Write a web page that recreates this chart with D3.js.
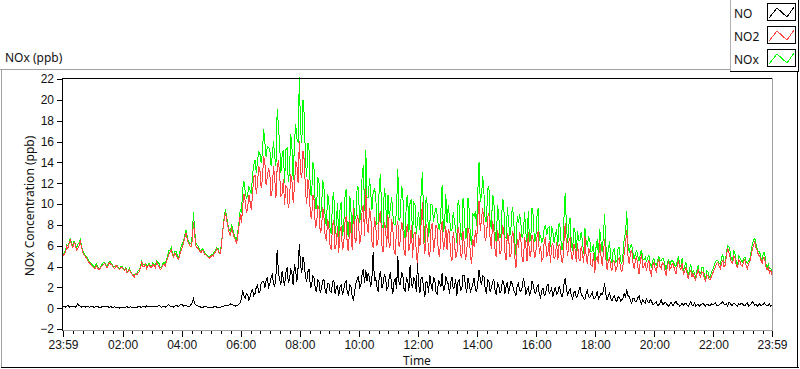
<!DOCTYPE html>
<html>
<head>
<meta charset="utf-8">
<script src="https://cdn.jsdelivr.net/npm/d3@7/dist/d3.min.js"></script>
<style>
body { margin: 0; background: #fff; }
svg { display: block; font-family: 'Noto Sans', sans-serif; }
.tick text { font-size: 12px; fill: #111; }
.tick line { stroke: #000; }
.label { font-size: 12px; fill: #111; }
</style>
</head>
<body>
<script>
var w = 800;
var h = 369;

var seriesNames = ['NO', 'NO2', 'NOx'];
var seriesColors = ['#000000', '#ff4444', '#00ff00'];

// samples every 2.5 minutes, from 23:59 to 23:59 the next day
var startTime = new Date(2020, 0, 1, 23, 59);
var endTime = new Date(2020, 0, 2, 23, 59);
var stepMinutes = 2.5;

var xTickLabels = ['23:59', '02:00', '04:00', '06:00', '08:00', '10:00', '12:00',
  '14:00', '16:00', '18:00', '20:00', '22:00', '23:59'];
var yTickValues = [-2, 0, 2, 4, 6, 8, 10, 12, 14, 16, 18, 20, 22];

// one row per hour
var noValues = [
  0.2,0.15, 0.1,0.2, 0.25,0.1, 0.15,0.2, 0.2,0.15, 0.1,0.2, 0.4,0.25, 0.2,0.1, 0.15,0.2, 0.1,0.15, 0.2,0.1, 0.1,0.15,
  0.15,0.1, 0.1,0.15, 0.2,0.1, 0.05,0.1, 0.15,0.2, 0.1,0.15, 0.2,0.1, 0.1,0.15, 0.05,0.1, 0.15,0.05, 0.1,0.1, 0.0,0.1,
  0.1,0.1, 0.05,0.1, 0.15,0.05, 0.1,0.15, 0.0,0.1, 0.1,0.05, 0.05,0.15, 0.2,0.1, 0.1,0.15, 0.15,0.1, 0.25,0.15, 0.1,0.2,
  0.2,0.15, 0.1,0.2, 0.15,0.2, 0.3,0.15, 0.1,0.15, 0.2,0.1, 0.15,0.25, 0.35,0.2, 0.2,0.15, 0.1,0.2, 0.3,0.2, 0.15,0.3,
  0.4,0.3, 0.2,0.25, 0.3,0.2, 0.15,0.2, 0.35,0.5, 0.9,0.4, 0.3,0.25, 0.2,0.15, 0.1,0.1, 0.1,0.15, 0.15,0.1, 0.1,0.1,
  0.1,0.1, 0.1,0.15, 0.15,0.1, 0.1,0.1, 0.1,0.15, 0.15,0.2, 0.3,0.3, 0.25,0.3, 0.4,0.35, 0.3,0.25, 0.2,0.3, 0.3,0.4,
  0.5,0.9, 1.7,1.2, 0.9,1.4, 1.3,0.8, 1.1,1.6, 1.8,1.2, 1.4,2.0, 2.2,1.5, 1.6,2.4, 2.6,2.6, 1.9,2.7, 2.9,2.0,
  2.3,2.9, 3.2,2.4, 2.0,3.1, 5.6,3.4, 2.8,2.2, 3.6,2.8, 2.1,3.4, 3.9,2.5, 2.7,3.8, 3.3,2.2, 4.2,3.6, 2.5,3.9,
  6.2,4.1, 3.4,4.9, 4.3,2.9, 2.6,3.5, 3.8,1.9, 2.2,3.1, 2.9,1.8, 1.6,2.7, 2.5,1.5, 1.9,2.6, 2.8,1.7, 1.4,2.4,
  2.4,1.6, 1.5,2.5, 2.7,1.4, 1.9,2.2, 1.2,2.0, 2.3,1.3, 1.7,2.4, 2.6,1.5, 1.3,2.3, 2.0,1.1, 0.8,1.7, 2.4,2.8,
  3.1,2.0, 2.2,3.3, 3.8,2.4, 3.7,2.6, 3.4,2.9, 2.0,3.0, 5.4,2.7, 2.9,2.1, 1.6,3.1, 3.6,1.9, 2.3,3.2, 3.0,1.8,
  2.0,2.9, 3.5,2.1, 1.4,2.6, 2.8,1.8, 5.0,2.5, 2.2,3.4, 3.3,1.9, 1.6,2.9, 2.7,1.7, 4.1,2.4, 1.9,3.0, 2.6,1.6,
  4.3,2.2, 1.5,3.0, 2.9,1.9, 1.1,2.6, 2.4,1.5, 3.2,2.3, 1.7,2.9, 2.8,1.6, 1.3,2.6, 2.5,2.0, 3.4,1.7, 1.8,3.1,
  2.6,2.3, 1.4,2.5, 3.0,1.9, 2.0,2.8, 1.2,2.6, 2.7,1.7, 1.8,3.2, 3.1,2.1, 1.5,2.9, 2.3,1.6, 1.9,2.4, 2.9,1.8,
  1.6,2.4, 3.7,2.8, 2.2,3.1, 3.0,1.9, 1.4,2.7, 2.6,1.6, 1.9,2.5, 2.8,1.7, 1.3,2.4, 2.2,1.5, 1.7,2.6, 2.5,1.4,
  2.1,2.5, 1.4,2.0, 2.6,2.3, 1.8,1.5, 1.2,2.2, 2.4,1.7, 1.6,2.0, 2.9,2.4, 1.3,1.8, 2.0,1.3, 1.5,2.6, 2.3,1.6,
  1.4,2.0, 2.2,1.3, 1.0,1.7, 1.9,1.2, 1.3,2.1, 2.3,1.4, 1.6,1.9, 1.1,1.6, 2.0,1.3, 1.4,2.1, 1.8,1.1, 1.2,2.3,
  2.9,1.8, 1.3,1.6, 1.9,1.2, 0.9,1.5, 1.6,1.0, 1.1,1.7, 2.0,1.3, 1.2,0.9, 0.8,1.4, 1.7,1.1, 1.0,1.3, 1.5,0.9,
  0.9,1.2, 1.6,0.9, 1.1,1.4, 1.3,1.7, 2.4,1.3, 0.8,1.1, 1.5,0.9, 0.7,1.0, 1.2,0.8, 0.6,1.1, 1.0,0.7, 0.8,1.0,
  1.4,1.0, 1.8,1.2, 1.1,0.7, 0.5,0.9, 0.9,0.6, 0.7,1.0, 1.2,0.7, 0.4,0.8, 0.6,0.5, 0.9,0.6, 0.5,0.8, 0.7,0.4,
  0.4,0.5, 0.6,0.3, 0.3,0.5, 0.8,0.4, 0.4,0.6, 0.5,0.3, 0.2,0.4, 0.6,0.3, 0.3,0.5, 0.7,0.4, 0.4,0.2, 0.3,0.5,
  0.3,0.4, 0.5,0.3, 0.2,0.4, 0.6,0.3, 0.3,0.5, 0.2,0.3, 0.4,0.2, 0.3,0.4, 0.5,0.3, 0.2,0.4, 0.4,0.2, 0.3,0.4,
  0.3,0.4, 0.5,0.3, 0.2,0.3, 0.4,0.5, 0.6,0.4, 0.3,0.4, 0.2,0.6, 0.5,0.3, 0.3,0.5, 0.4,0.3, 0.2,0.4, 0.3,0.5,
  0.4,0.3, 0.2,0.4, 0.5,0.2, 0.3,0.4, 0.6,0.5, 0.3,0.4, 0.2,0.3, 0.4,0.2, 0.3,0.4, 0.5,0.3, 0.2,0.3, 0.4,0.2,
  0.3
];

var no2Values = [
  5.0,5.2, 5.4,5.9, 5.7,6.2, 6.6,6.0, 5.8,6.3, 6.1,5.6, 5.7,6.0, 6.4,5.9, 5.4,5.1, 5.0,4.8, 4.6,4.4, 4.3,4.1,
  4.0,3.9, 3.8,4.1, 3.9,3.7, 3.8,4.0, 4.1,4.2, 4.3,4.0, 3.9,4.2, 4.4,4.2, 4.1,3.9, 3.8,4.1, 4.0,3.8, 3.7,3.9,
  3.9,3.7, 3.6,3.8, 3.4,3.5, 3.7,3.4, 3.3,3.1, 3.0,3.3, 3.2,3.4, 3.5,3.9, 4.4,4.0, 4.0,4.2, 3.8,4.0, 4.2,3.9,
  3.9,4.2, 4.1,3.9, 4.4,4.2, 4.0,3.7, 3.8,4.1, 4.2,4.0, 4.5,4.8, 5.2,5.4, 5.6,5.1, 4.9,5.3, 5.1,4.8, 4.7,5.2,
  5.5,5.9, 6.3,6.8, 7.2,6.6, 6.2,6.0, 5.9,6.5, 8.3,7.0, 6.0,5.8, 5.7,5.5, 5.3,5.6, 5.5,5.2, 5.1,5.0, 4.9,4.8,
  4.9,5.1, 5.0,5.3, 5.4,5.7, 5.6,5.2, 5.3,6.4, 7.6,8.5, 9.2,8.4, 7.8,7.2, 7.0,7.6, 7.3,6.8, 6.6,6.2, 7.0,7.9,
  9.0,8.2, 9.8,11.0, 10.3,9.1, 9.6,10.9, 10.2,9.4, 11.0,12.6, 12.8,11.0, 11.9,13.6, 13.2,11.5, 12.4,14.6, 14.0,11.8, 12.6,13.4,
  13.0,10.8, 11.4,13.6, 12.5,10.6, 13.5,14.2, 12.9,10.8, 11.0,12.4, 9.9,11.8, 11.5,9.6, 10.3,12.9, 12.2,10.1, 11.6,14.1, 13.8,12.0,
  16.0,13.0, 12.5,15.1, 14.2,11.2, 10.0,12.4, 11.3,9.0, 8.6,10.9, 10.4,7.8, 8.0,9.9, 9.5,7.2, 7.6,9.7, 8.8,6.9, 6.5,8.6,
  7.8,5.9, 5.6,8.1, 8.4,5.7, 6.2,7.9, 5.3,7.4, 7.9,5.6, 6.0,8.2, 8.8,5.8, 5.5,8.5, 7.2,5.6, 9.6,6.8, 6.3,8.9,
  8.5,6.2, 6.8,9.4, 9.9,6.9, 11.5,8.0, 7.2,9.6, 9.0,6.4, 5.8,8.7, 8.1,6.0, 6.6,8.9, 9.3,6.1, 5.4,8.3, 7.7,5.9,
  8.9,5.8, 6.1,8.6, 7.5,5.4, 5.2,7.8, 8.4,5.9, 6.5,8.3, 7.9,5.6, 5.0,7.7, 8.1,5.5, 6.2,8.0, 4.8,7.1, 7.3,5.5,
  4.1,7.0, 6.0,8.3, 10.2,6.6, 5.2,8.1, 7.5,5.3, 4.9,7.7, 8.2,5.4, 6.3,8.0, 7.6,5.2, 5.0,7.4, 8.4,5.6, 6.1,7.9,
  5.6,7.6, 7.2,5.0, 4.5,7.3, 6.4,4.8, 5.1,7.8, 7.0,5.2, 4.8,7.4, 6.2,4.6, 5.3,7.7, 7.1,5.1, 4.2,6.6, 5.9,7.5,
  6.3,8.8, 10.3,7.4, 8.6,9.6, 8.0,6.5, 6.9,8.7, 9.1,6.6, 5.7,8.4, 7.6,5.6, 4.9,7.5, 6.8,5.2, 5.5,7.9, 7.7,5.4,
  4.6,7.2, 6.9,4.9, 5.2,7.4, 7.1,5.0, 3.9,6.6, 5.8,7.3, 6.5,4.7, 4.4,6.8, 6.0,4.5, 7.3,5.1, 5.0,7.0, 6.6,4.8,
  5.1,6.8, 7.4,5.2, 6.0,4.6, 4.8,6.5, 6.7,4.9, 5.4,6.4, 4.3,6.0, 6.2,4.7, 5.0,6.3, 4.6,6.1, 5.9,4.5, 4.4,6.4,
  8.2,6.0, 5.0,6.4, 6.8,4.9, 4.6,6.2, 5.7,4.4, 6.3,4.8, 4.5,6.0, 5.2,4.3, 6.9,5.0, 4.2,5.8, 5.5,4.1, 4.0,5.3,
  3.4,4.6, 5.0,4.2, 6.5,5.1, 4.1,5.2, 6.6,4.8, 3.7,4.5, 4.9,3.9, 3.6,4.6, 4.5,3.6, 3.9,4.7, 4.8,3.8, 3.5,4.2,
  5.4,6.2, 7.5,5.0, 4.2,5.3, 5.6,4.4, 3.8,4.6, 4.9,4.0, 3.3,4.5, 5.2,3.9, 4.0,4.4, 3.6,4.2, 4.6,3.5, 3.2,4.1,
  4.4,3.8, 3.5,4.2, 4.7,4.0, 3.8,4.4, 4.3,3.6, 3.1,4.0, 4.5,3.7, 3.9,4.3, 4.1,3.6, 3.3,4.1, 4.6,3.9, 3.7,4.3,
  3.2,3.6, 3.9,3.3, 2.8,3.4, 3.6,3.0, 3.3,2.9, 2.7,3.3, 3.7,3.2, 3.0,3.5, 3.4,2.9, 2.6,3.2, 3.1,2.7, 2.8,3.1,
  3.4,3.7, 3.9,4.3, 4.4,4.0, 3.8,4.3, 4.6,4.0, 4.1,5.0, 5.8,5.3, 4.9,4.4, 4.3,5.0, 4.8,4.1, 3.9,4.6, 4.5,4.1,
  4.0,4.5, 4.7,4.1, 3.8,4.3, 4.4,5.0, 5.6,6.0, 6.4,5.8, 5.5,5.1, 5.0,4.6, 4.3,4.9, 4.8,4.0, 3.7,3.9, 3.4,3.6,
  3.2
];

var noxValues = [
  5.2,5.35, 5.5,6.1, 5.95,6.3, 6.75,6.2, 6.0,6.45, 6.2,5.8, 6.1,6.25, 6.6,6.0, 5.55,5.3, 5.1,4.95, 4.8,4.5, 4.4,4.25,
  4.15,4.0, 3.9,4.25, 4.1,3.8, 3.85,4.1, 4.25,4.4, 4.4,4.15, 4.1,4.3, 4.5,4.35, 4.15,4.0, 3.95,4.15, 4.1,3.9, 3.7,4.0,
  4.0,3.8, 3.65,3.9, 3.55,3.55, 3.8,3.55, 3.3,3.2, 3.1,3.35, 3.25,3.55, 3.7,4.0, 4.5,4.15, 4.15,4.3, 4.05,4.15, 4.3,4.1,
  4.1,4.35, 4.2,4.1, 4.55,4.4, 4.3,3.85, 3.9,4.25, 4.4,4.1, 4.65,5.05, 5.55,5.6, 5.8,5.25, 5.0,5.5, 5.4,5.0, 4.85,5.5,
  5.9,6.2, 6.5,7.05, 7.5,6.8, 6.35,6.2, 6.25,7.0, 9.2,7.4, 6.3,6.05, 5.9,5.65, 5.4,5.7, 5.6,5.35, 5.25,5.1, 5.0,4.9,
  5.0,5.2, 5.1,5.45, 5.55,5.8, 5.7,5.3, 5.4,6.55, 7.75,8.7, 9.5,8.7, 8.05,7.5, 7.4,7.95, 7.6,7.05, 6.8,6.5, 7.3,8.3,
  9.5,9.1, 11.5,12.2, 11.2,10.5, 10.9,11.7, 11.3,11.0, 12.8,13.8, 14.2,13.0, 14.1,15.1, 14.8,13.9, 15.0,17.2, 15.9,14.5, 15.5,15.4,
  15.3,13.7, 14.6,16.0, 14.5,13.7, 19.1,17.6, 15.7,13.0, 14.6,15.2, 12.0,15.2, 15.4,12.1, 13.0,16.7, 15.5,12.3, 15.8,17.7, 16.3,15.9,
  22.2,17.1, 15.9,20.0, 18.5,14.1, 12.6,15.9, 15.1,10.9, 10.8,14.0, 13.3,9.6, 9.6,12.6, 12.0,8.7, 9.5,12.3, 11.6,8.6, 7.9,11.0,
  10.2,7.5, 7.1,10.6, 11.1,7.1, 8.1,10.1, 6.5,9.4, 10.2,6.9, 7.7,10.6, 11.4,7.3, 6.8,10.8, 9.2,6.7, 10.4,8.5, 8.7,11.7,
  11.6,8.2, 9.0,12.7, 13.7,9.3, 15.2,10.6, 10.6,12.5, 11.0,9.4, 11.2,11.4, 11.0,8.1, 8.2,12.0, 12.9,8.0, 7.7,11.5, 10.7,7.7,
  10.9,8.7, 9.6,10.7, 8.9,8.0, 8.0,9.6, 13.4,8.4, 8.7,11.7, 11.2,7.5, 6.6,10.6, 10.8,7.2, 10.3,10.4, 6.7,10.1, 9.9,7.1,
  8.4,9.2, 7.5,11.3, 13.1,8.5, 6.3,10.7, 9.9,6.8, 8.1,10.0, 9.9,8.3, 9.1,9.6, 8.9,7.8, 7.5,9.4, 11.8,7.3, 7.9,11.0,
  8.2,9.9, 8.6,7.5, 7.5,9.2, 8.4,7.6, 6.3,10.4, 9.7,6.9, 6.6,10.6, 9.3,6.7, 6.8,10.6, 9.4,6.7, 6.1,9.0, 8.8,9.3,
  7.9,11.2, 14.0,10.2, 10.8,12.7, 11.0,8.4, 8.3,11.4, 11.7,8.2, 7.6,10.9, 10.4,7.3, 6.2,9.9, 9.0,6.7, 7.2,10.5, 10.2,6.8,
  6.7,9.7, 8.3,6.9, 7.8,9.7, 8.9,6.5, 5.1,8.8, 8.2,9.0, 8.1,6.7, 7.3,9.2, 7.3,6.3, 9.3,6.4, 6.5,9.6, 8.9,6.4,
  6.5,8.8, 9.6,6.5, 7.0,6.3, 6.7,7.7, 8.0,7.0, 7.7,7.8, 5.9,7.9, 7.3,6.3, 7.0,7.6, 6.0,8.2, 7.7,5.6, 5.6,8.7,
  11.1,7.8, 6.3,8.0, 8.7,6.1, 5.5,7.7, 7.3,5.4, 7.4,6.5, 6.5,7.3, 6.4,5.2, 7.7,6.4, 5.9,6.9, 6.5,5.4, 5.5,6.2,
  4.3,5.8, 6.6,5.1, 7.6,6.5, 5.4,6.9, 9.0,6.1, 4.5,5.6, 6.4,4.8, 4.3,5.6, 5.7,4.4, 4.5,5.8, 5.8,4.5, 4.3,5.2,
  6.8,7.2, 9.3,6.2, 5.3,6.0, 6.1,5.3, 4.7,5.2, 5.6,5.0, 4.5,5.2, 5.6,4.7, 4.6,4.9, 4.5,4.8, 5.1,4.3, 3.9,4.5,
  4.8,4.3, 4.1,4.5, 5.0,4.5, 4.6,4.8, 4.7,4.2, 3.6,4.3, 4.7,4.1, 4.5,4.6, 4.4,4.1, 4.0,4.5, 5.0,4.1, 4.0,4.8,
  3.5,4.0, 4.4,3.6, 3.0,3.8, 4.2,3.3, 3.6,3.4, 2.9,3.6, 4.1,3.4, 3.3,3.9, 3.9,3.2, 2.8,3.6, 3.5,2.9, 3.1,3.5,
  3.7,4.1, 4.4,4.6, 4.6,4.3, 4.2,4.8, 5.2,4.4, 4.4,5.4, 6.0,5.9, 5.4,4.7, 4.6,5.5, 5.2,4.4, 4.1,5.0, 4.8,4.6,
  4.4,4.8, 4.9,4.5, 4.3,4.5, 4.7,5.4, 6.2,6.5, 6.7,6.2, 5.7,5.4, 5.4,4.8, 4.6,5.3, 5.3,4.3, 3.9,4.2, 3.8,3.8,
  3.5
];

var seriesValues = [noValues, no2Values, noxValues];

function sampleTime(i) {
  return new Date(startTime.getTime() + i * stepMinutes * 60000);
}

var x = d3.scaleTime()
  .domain([startTime, endTime])
  .range([63, 772]);

var y = d3.scaleLinear()
  .domain([-2, 22])
  .range([329, 79]);

var xTickDates = xTickLabels.map(function(s, i) {
  if (i === 0) return startTime;
  if (i === xTickLabels.length - 1) return endTime;
  var p = s.split(':');
  return new Date(2020, 0, 2, +p[0], +p[1]);
});

var svg = d3.select('body')
  .append('svg')
  .attr('width', w)
  .attr('height', h);

svg.append('rect')
  .attr('width', w)
  .attr('height', h)
  .attr('fill', '#fff');

// outer frame
svg.append('line')
  .attr('x1', 0).attr('x2', 730).attr('y1', 69.5).attr('y2', 69.5)
  .style('stroke', '#a0a0a0');
svg.append('line')
  .attr('x1', 1.5).attr('x2', 1.5).attr('y1', 69).attr('y2', 368)
  .style('stroke', '#a0a0a0');
svg.append('line')
  .attr('x1', 1).attr('x2', 799).attr('y1', 367.5).attr('y2', 367.5)
  .style('stroke', '#000');
svg.append('line')
  .attr('x1', 797.5).attr('x2', 797.5).attr('y1', 71).attr('y2', 368)
  .style('stroke', '#000');

svg.append('text')
  .attr('class', 'label')
  .attr('x', 5)
  .attr('y', 62)
  .text('NOx (ppb)');

// lines, NOx under NO2 under NO
var line = d3.line()
  .x(function(d, i) { return x(sampleTime(i)); })
  .y(function(d) { return y(d); });

svg.selectAll('path.series')
  .data([2, 1, 0])
  .enter().append('path')
    .attr('class', 'series')
    .attr('d', function(k) { return line(seriesValues[k]); })
    .attr('fill', 'none')
    .attr('stroke', function(k) { return seriesColors[k]; })
    .attr('stroke-width', 1)
    .attr('shape-rendering', 'crispEdges');

// plot frame: dark top/left, grey bottom/right
svg.append('line')
  .attr('x1', 62.5).attr('x2', 772.5).attr('y1', 78.5).attr('y2', 78.5)
  .style('stroke', '#000');
svg.append('line')
  .attr('x1', 772.5).attr('x2', 772.5).attr('y1', 78).attr('y2', 330.5)
  .style('stroke', '#a0a0a0');
svg.append('line')
  .attr('x1', 62).attr('x2', 773).attr('y1', 330.5).attr('y2', 330.5)
  .style('stroke', '#a0a0a0');
svg.append('line')
  .attr('x1', 62.5).attr('x2', 62.5).attr('y1', 78).attr('y2', 331)
  .style('stroke', '#000');

// y axis
var yAxis = svg.append('g')
  .attr('transform', 'translate(62,0)')
  .call(d3.axisLeft(y).tickValues(yTickValues).tickSize(5).tickPadding(3));
yAxis.select('.domain').remove();

// x axis: minor ticks every 20 minutes, labelled ticks every 2 hours
var xMinor = svg.append('g')
  .attr('transform', 'translate(0,331)')
  .call(d3.axisBottom(x).ticks(d3.timeMinute.every(20)).tickSize(3).tickFormat(''));
xMinor.select('.domain').remove();

var xAxis = svg.append('g')
  .attr('transform', 'translate(0,331)')
  .call(d3.axisBottom(x)
    .tickValues(xTickDates)
    .tickSize(6)
    .tickPadding(3)
    .tickFormat(function(d, i) { return xTickLabels[i]; }));
xAxis.select('.domain').remove();

svg.selectAll('.tick line').attr('shape-rendering', 'crispEdges');

svg.append('text')
  .attr('class', 'label')
  .attr('x', 417)
  .attr('y', 365)
  .style('text-anchor', 'middle')
  .text('Time');

svg.append('text')
  .attr('class', 'label')
  .attr('transform', 'translate(34,206) rotate(-90)')
  .style('text-anchor', 'middle')
  .text('NOx Concentration (ppb)');

// legend
var legend = svg.append('g');
legend.append('rect')
  .attr('x', 730).attr('y', 0).attr('width', 69).attr('height', 72)
  .attr('fill', '#fff');
legend.append('line')
  .attr('x1', 730.5).attr('x2', 730.5).attr('y1', 0).attr('y2', 72)
  .style('stroke', '#b0b0b0');
legend.append('line')
  .attr('x1', 730).attr('x2', 799).attr('y1', 71.5).attr('y2', 71.5)
  .style('stroke', '#000');
legend.append('line')
  .attr('x1', 798.5).attr('x2', 798.5).attr('y1', 0).attr('y2', 72)
  .style('stroke', '#000');

var rows = legend.selectAll('g.item')
  .data(seriesNames)
  .enter().append('g')
    .attr('class', 'item')
    .attr('transform', function(d, i) { return 'translate(0,' + (3 + i * 23) + ')'; });

rows.append('text')
  .attr('class', 'label')
  .attr('x', 734)
  .attr('y', 15)
  .text(function(d) { return d; });

rows.append('rect')
  .attr('x', 767.5).attr('y', 0.5).attr('width', 28).attr('height', 17)
  .attr('fill', '#fff')
  .attr('stroke', '#000');

rows.append('polyline')
  .attr('points', '769,15 777,5 787,14 794,4')
  .attr('fill', 'none')
  .attr('stroke', function(d, i) { return seriesColors[i]; })
  .attr('shape-rendering', 'crispEdges');
</script>
</body>
</html>
